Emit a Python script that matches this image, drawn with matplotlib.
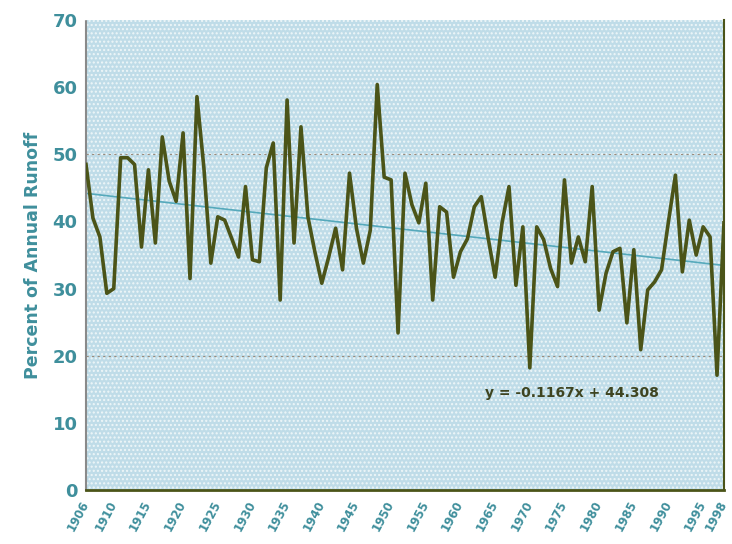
import matplotlib
matplotlib.use('Agg')
from matplotlib import pyplot as plt
import numpy as np

# 径流百分比数据（按年份）
years = list(range(1906, 1999))
runoff = [48.5, 40.5, 37.7, 29.3, 30.0, 49.5, 49.5, 48.5, 36.2, 47.7,
          36.8, 52.6, 46.0, 43.0, 53.2, 31.5, 58.6, 48.0, 33.8, 40.7,
          40.2, 37.5, 34.7, 45.2, 34.3, 34.0, 48.0, 51.7, 28.3, 58.1,
          36.8, 54.1, 40.7, 35.5, 30.8, 34.7, 39.0, 32.8, 47.2, 39.0,
          33.8, 38.7, 60.4, 46.6, 46.2, 23.4, 47.2, 42.5, 39.8, 45.7,
          28.3, 42.2, 41.4, 31.7, 35.5, 37.4, 42.2, 43.7, 37.5, 31.7,
          39.8, 45.2, 30.5, 39.2, 18.2, 39.2, 37.3, 33.0, 30.3, 46.2,
          33.8, 37.7, 34.0, 45.2, 26.8, 32.3, 35.5, 36.0, 24.9, 35.8,
          20.9, 29.8, 31.0, 32.8, 40.0, 46.9, 32.5, 40.2, 35.0, 39.2,
          37.7, 17.1, 39.8]
slope = -0.1167
intercept = 44.308
xticks = [1906, 1910, 1915, 1920, 1925, 1930, 1935, 1940, 1945, 1950,
          1955, 1960, 1965, 1970, 1975, 1980, 1985, 1990, 1995, 1998]
yticks = [0, 10, 20, 30, 40, 50, 60, 70]

teal = '#3f8f9c'
olive = '#4b5418'

fig = plt.figure(figsize=(7.32, 5.44), dpi=100)
ax = fig.add_axes([0.1175, 0.0993, 0.8715, 0.8637])
ax.set_facecolor('#bfdce8')
# 点状底纹
ax.add_patch(plt.Rectangle((0, 0), 1, 1, transform=ax.transAxes, facecolor='none',
                           edgecolor='#eef6f8', hatch='....', linewidth=0, zorder=0.5))

for g in [20, 50]:
    ax.axhline(g, color='#9a8a7a', linestyle=(0, (2, 3)), linewidth=0.8, zorder=1)

idx = np.arange(1, len(years) + 1)
trend = slope * idx + intercept
ax.plot(years, trend, color='#55a9bb', linewidth=1.2, zorder=2)
ax.plot(years, runoff, color=olive, linewidth=2.6, zorder=3)

ax.set_xlim(1906, 1998)
ax.set_ylim(0, 70)
ax.set_yticks(yticks)
ax.set_xticks(xticks)
ax.set_xticklabels([str(y) for y in xticks], rotation=62, fontsize=8.5,
                   color=teal, fontweight='bold', ha='right', va='center',
                   rotation_mode='anchor')
ax.set_yticklabels([str(v) for v in yticks], fontsize=13, color=teal, fontweight='bold')
ax.tick_params(axis='both', length=0, pad=6)
ax.tick_params(axis='x', pad=8)

ax.set_ylabel('Percent of Annual Runoff', fontsize=12.5, color=teal,
              fontweight='bold', labelpad=8)

ax.spines['left'].set_color('#8a8a8a')
ax.spines['left'].set_linestyle((0, (1, 1)))
ax.spines['left'].set_linewidth(1.5)
ax.spines['top'].set_visible(False)
ax.spines['bottom'].set_color(olive)
ax.spines['bottom'].set_linewidth(2)
ax.spines['right'].set_color(olive)
ax.spines['right'].set_linewidth(1.5)

ax.text(1963.5, 13.8, 'y = -0.1167x + 44.308', fontsize=10, fontweight='bold',
        color='#3e4420', zorder=4)

fig.savefig('out.png', dpi=100)
